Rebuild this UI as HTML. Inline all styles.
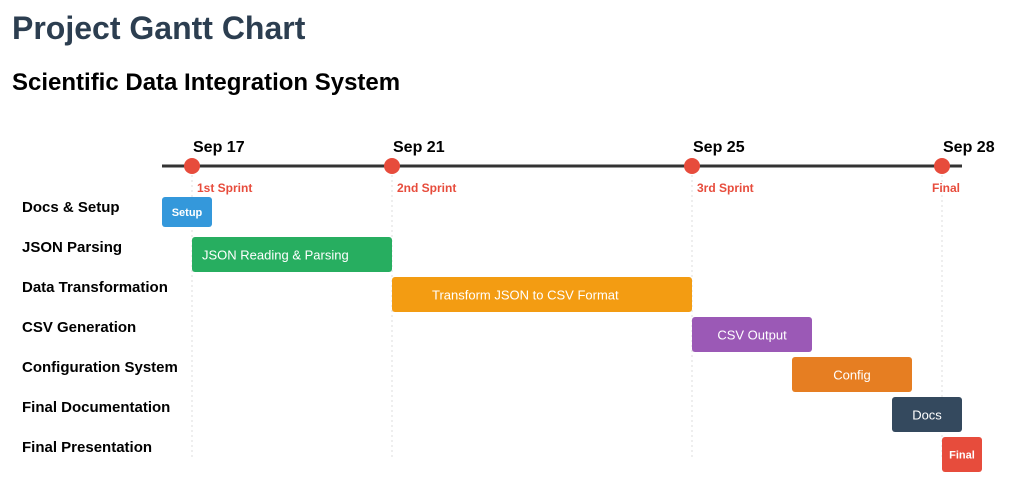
<!DOCTYPE html>
<html><head><meta charset="utf-8"><style>
body{margin:0;background:#fff;font-family:"Liberation Sans",Arial,sans-serif;width:1018px;height:494px;overflow:hidden;position:relative}
h1{position:absolute;left:12px;top:10px;margin:0;font-size:32px;color:#2c3e50;font-weight:bold}
h2{position:absolute;left:12px;top:69px;margin:0;font-size:24px;color:#000;font-weight:bold}
svg{position:absolute;left:0;top:0}
</style></head><body>
<h1>Project Gantt Chart</h1>
<h2>Scientific Data Integration System</h2>
<svg id="g" width="1018" height="494"></svg>
<script>
const taskNames=["Docs & Setup","JSON Parsing","Data Transformation","CSV Generation","Configuration System","Final Documentation","Final Presentation"];
const barLabels=["Setup","JSON Reading & Parsing","Transform JSON to CSV Format","CSV Output","Config","Docs","Final"];
const starts=[0,3,23,53,63,73,78];
const ends=[5,23,53,65,75,80,82];
const colors=["#3498db","#27ae60","#f39c12","#9b59b6","#e67e22","#34495e","#e74c3c"];
const msPos=[3,23,53,78];
const msDates=["Sep 17","Sep 21","Sep 25","Sep 28"];
const msLabels=["1st Sprint","2nd Sprint","3rd Sprint","Final"];
const NS="http://www.w3.org/2000/svg",svg=document.getElementById('g');
const x=v=>162+v*10;
function mk(t,a,txt){const e=document.createElementNS(NS,t);for(const k in a)e.setAttribute(k,a[k]);if(txt!=null)e.textContent=txt;svg.appendChild(e);return e;}
let l=mk('line',{x1:162,x2:962,y1:166,y2:166,stroke:'#333','stroke-width':3});


msPos.forEach((p,i)=>{
 let d=mk('line',{x1:x(p),x2:x(p),y1:175,y2:458,stroke:'#ddd','stroke-width':1,'stroke-dasharray':'2,3'});
 
 
 let c=mk('circle',{cx:x(p),cy:166,r:8,fill:'#e74c3c'});
 
 
 let t=mk('text',{x:x(p)+1,y:152,'font-size':16,'font-weight':'bold',fill:'#000'},msDates[i]);
 
 
 const last=i==msPos.length-1;
 let s=mk('text',{x:last?x(p)+4:x(p)+5,y:192,'font-size':12,'font-weight':'bold',fill:'#e74c3c','text-anchor':last?'middle':'start'},msLabels[i]);
 
 
});
taskNames.forEach((n,i)=>{
 const y=(i==0?197:197+i*40);const h=i==0?30:35;
 let t=mk('text',{x:22,y:212+i*40,'font-size':15,'font-weight':'bold',fill:'#000'},n);
 
 
 let r=mk('rect',{x:x(starts[i]),y:y,width:x(ends[i])-x(starts[i]),height:h,rx:3,fill:colors[i]});
 
 
 const small=(i==0||i==6);
 const left=(i==1||i==2);
 const pad=i==2?40:10;
 let b=mk('text',{x:left?x(starts[i])+pad:(x(starts[i])+x(ends[i]))/2,y:y+h/2+(small?4:5),'font-size':small?11:13,'font-weight':small?'bold':'normal',fill:'#fff','text-anchor':left?'start':'middle'},barLabels[i]);
 
 
});
</script>
</body></html>
